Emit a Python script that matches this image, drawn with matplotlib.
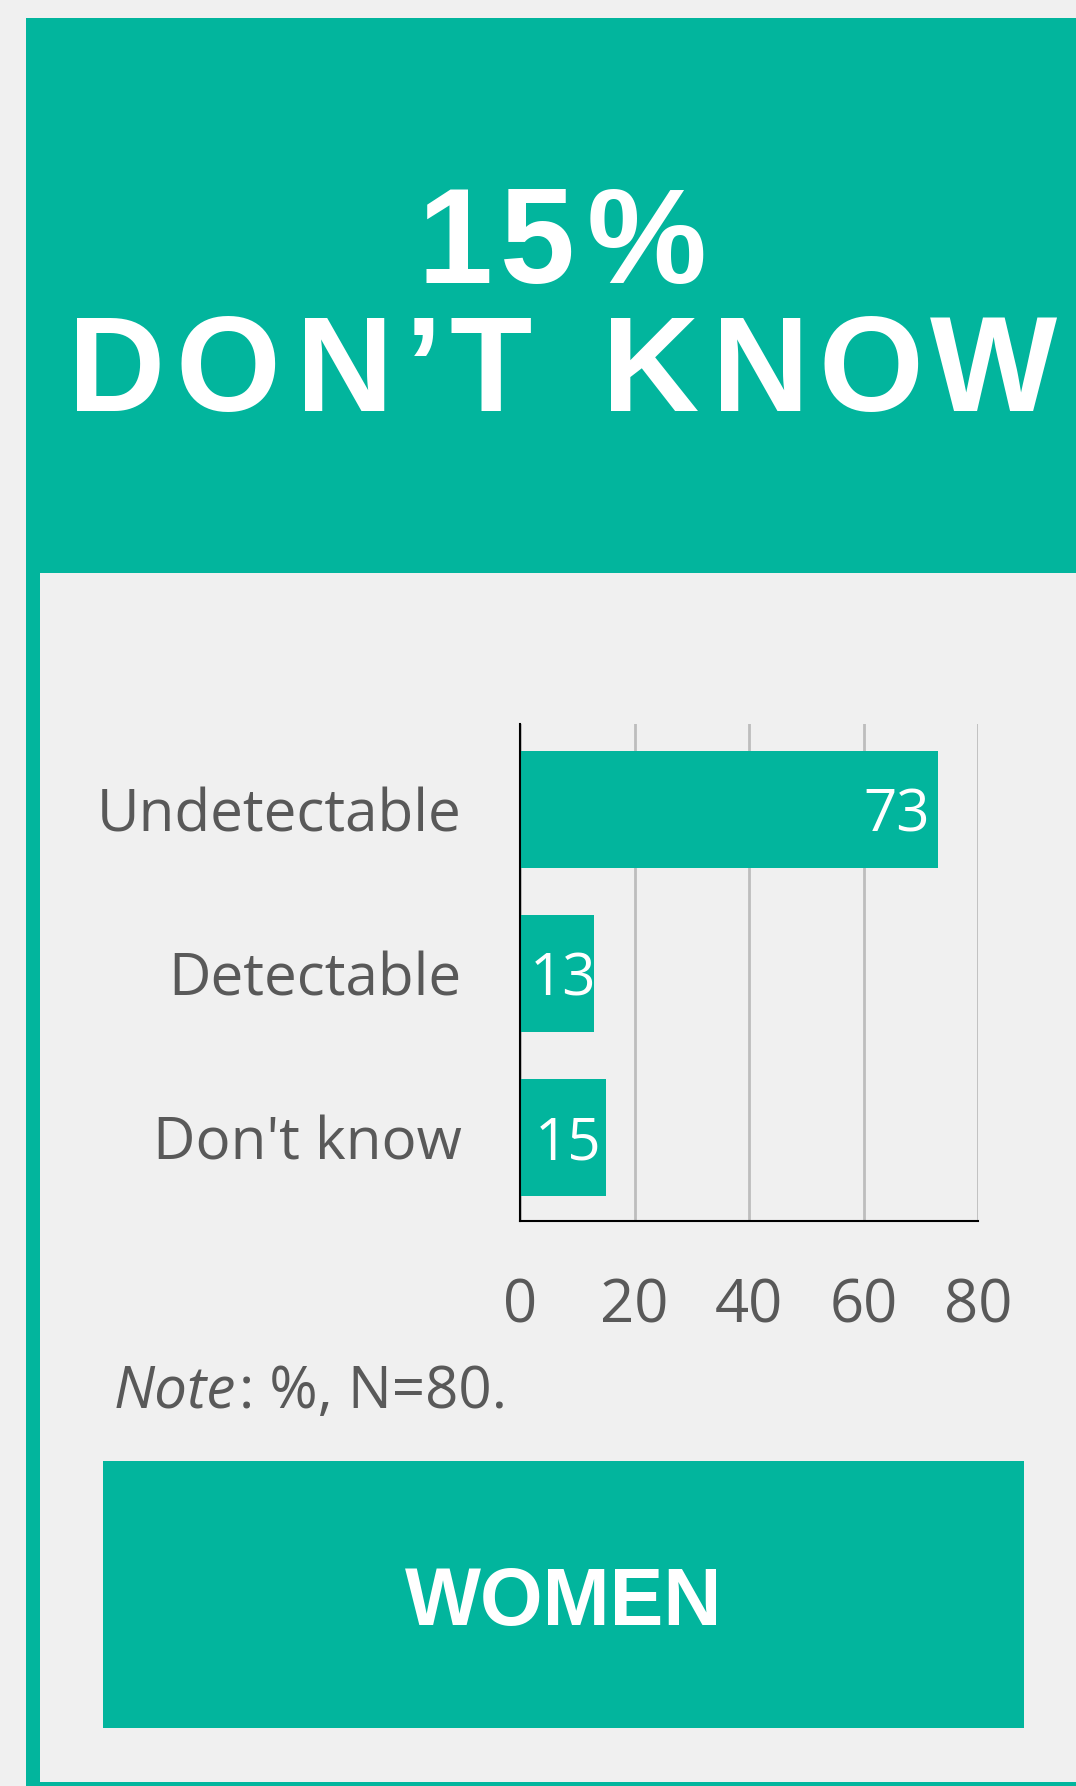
import matplotlib.pyplot as plt
from matplotlib import font_manager
from matplotlib.font_manager import FontProperties
from matplotlib.ft2font import FT2Font
from matplotlib.patches import Rectangle

W, H = 1076, 1786
DPI = 100
TEAL = '#02b59d'
BG = '#f0f0f0'
GREY = '#595959'

categories = ['Undetectable', 'Detectable', "Don't know"]
values = [73, 13, 15]
x_ticks = [0, 20, 40, 60, 80]
headline_pct = '15%'
headline_text = 'DON\u2019T KNOW'
group_label = 'WOMEN'
note_italic = 'Note'
note_rest = ': %, N=80.'

plt.rcParams['font.family'] = ['Open Sans', 'DejaVu Sans']

fig = plt.figure(figsize=(W / DPI, H / DPI), dpi=DPI, facecolor=BG)


def fx(x):
    return x / W


def fy(y):
    return 1 - y / H


def box(x0, y0, x1, y1, color):
    fig.add_artist(Rectangle((fx(x0), fy(y1)), fx(x1) - fx(x0), fy(y0) - fy(y1),
                             transform=fig.transFigure, facecolor=color,
                             edgecolor='none', zorder=-5))


def spaced_text(s, cx, baseline, size, gap, family='Liberation Sans', weight='bold', color='white'):
    # letter-spaced text: measure advances with FreeType and place glyph by glyph
    path = font_manager.findfont(FontProperties(family=family, weight=weight))
    font = FT2Font(path, hinting_factor=1)
    font.set_size(size, DPI)
    glyphs = []
    pen = 0.0
    for ch in s:
        g = font.load_char(ord(ch))
        glyphs.append((ch, pen + g.horiBearingX / 64))
        pen += g.horiAdvance / 64 + gap
    total = pen - gap
    x0 = cx - total / 2
    for ch, off in glyphs:
        if ch == ' ':
            continue
        fig.text(fx(x0 + off), fy(baseline), ch, ha='left', va='baseline',
                 fontsize=size, fontfamily=family, fontweight=weight, color=color)


# teal frame, header block and inner panel
box(26, 18, 1110, 1800, TEAL)
box(40, 573, 1110, 1782, BG)
box(103, 1461, 1024, 1728, TEAL)

spaced_text(headline_pct, 557, 283, 97, 12)
spaced_text(headline_text, 558, 411, 97, 12.5)
fig.text(fx(564), fy(1625), group_label, ha='center', va='baseline', fontsize=58,
         fontfamily='Liberation Sans', fontweight='bold', color='white')

# bar chart
ax = fig.add_axes([fx(520), fy(1221), fx(978) - fx(520), fy(724) - fy(1221)])
ax.set_facecolor('none')
pos = list(range(len(categories)))
bars = ax.barh(pos, values, height=0.715, color=TEAL, zorder=3)
ax.set_xlim(0, 80)
ax.set_ylim(2.51, -0.52)
ax.set_xticks(x_ticks)
ax.set_yticks(pos)
ax.set_yticklabels(categories)
ax.xaxis.grid(True, color='#bdbdbd', linewidth=2, zorder=0)
ax.tick_params(axis='y', length=0, pad=42, labelsize=42, labelcolor=GREY)
ax.tick_params(axis='x', length=0, pad=40, labelsize=43, labelcolor=GREY)
for side in ['top', 'right']:
    ax.spines[side].set_visible(False)
for side in ['left', 'bottom']:
    ax.spines[side].set_color('black')
    ax.spines[side].set_linewidth(1.5)
    ax.spines[side].set_zorder(4)

for b, v in zip(bars, values):
    yc = b.get_y() + b.get_height() / 2
    if v > 30:
        ax.annotate(str(v), (v, yc), xytext=(-6, -5), textcoords='offset points',
                    ha='right', va='center', fontsize=42, color='white', zorder=5)
    else:
        ax.annotate(str(v), (v / 2, yc), xytext=(4, -5), textcoords='offset points',
                    ha='center', va='center', fontsize=42, color='white', zorder=5)

# note line, italic lead word
r = fig.canvas.get_renderer()
t = fig.text(fx(114), fy(1408), note_italic, ha='left', va='baseline', fontsize=42,
             style='italic', color=GREY)
ext = t.get_window_extent(r)
fig.text(ext.x1 / W + fx(3), fy(1408), note_rest, ha='left', va='baseline',
         fontsize=42, color=GREY)

fig.savefig('out.png', dpi=DPI, facecolor=BG)
